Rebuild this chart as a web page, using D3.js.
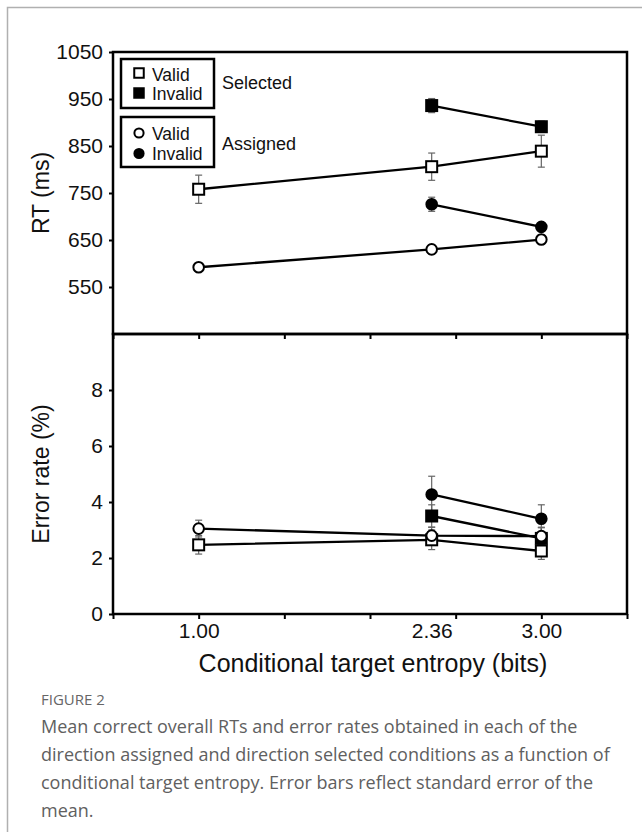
<!DOCTYPE html>
<html>
<head>
<meta charset="utf-8">
<script src="https://cdn.jsdelivr.net/npm/d3@7"></script>
<style>
  html, body { margin: 0; padding: 0; background: #fff; }
  svg { display: block; }
</style>
</head>
<body>
<svg id="chart" width="642" height="832"></svg>
<script>
// ---------------- DATA ----------------
const entropy = [1.00, 2.36, 3.00];
const entropyLabels = ["1.00", "2.36", "3.00"];

const rtTicks = [550, 650, 750, 850, 950, 1050];
const errTicks = [0, 2, 4, 6, 8];

// RT (ms)
const rtSelectedValid      = [758, 806, 839];
const rtSelectedValidSE    = [30, 29, 34];
const rtSelectedInvalid    = [null, 936, 891];
const rtSelectedInvalidSE  = [null, 15, 12];
const rtAssignedValid      = [592, 630, 651];
const rtAssignedValidSE    = [8, 10, 10];
const rtAssignedInvalid    = [null, 726, 678];
const rtAssignedInvalidSE  = [null, 15, 8];

// Error rate (%)
const erSelectedValid      = [2.47, 2.65, 2.25];
const erSelectedValidSE    = [0.33, 0.35, 0.3];
const erSelectedInvalid    = [null, 3.5, 2.7];
const erSelectedInvalidSE  = [null, 0.4, 0.4];
const erAssignedValid      = [3.05, 2.8, 2.78];
const erAssignedValidSE    = [0.3, 0.3, 0.3];
const erAssignedInvalid    = [null, 4.27, 3.4];
const erAssignedInvalidSE  = [null, 0.65, 0.5];

const captionTitle = "FIGURE 2";
const captionLines = [
  "Mean correct overall RTs and error rates obtained in each of the",
  "direction assigned and direction selected conditions as a function of",
  "conditional target entropy. Error bars reflect standard error of the",
  "mean."
];

// ---------------- LAYOUT ----------------
const FONT = "'Liberation Sans', Arial, Helvetica, sans-serif";
const svg = d3.select("#chart");

// outer card border
svg.append("rect").attr("x", 7.5).attr("y", 7.5).attr("width", 700).attr("height", 900)
  .attr("fill", "none").attr("stroke", "#b0b0b0").attr("stroke-width", 1.5);

const left = 113, right = 627, topY = 52, midY = 334, botY = 614;

const x = d3.scaleLinear().domain([0.5, 3.5]).range([left, right]);
const yTop = d3.scaleLinear().domain([450, 1050]).range([midY, topY]);
const yBot = d3.scaleLinear().domain([0, 10]).range([botY, midY]);

const panels = [
  { y: yTop, ticks: rtTicks, title: "RT (ms)", series: [
      { v: rtSelectedValid, se: rtSelectedValidSE, shape: "square", fill: "#fff" },
      { v: rtSelectedInvalid, se: rtSelectedInvalidSE, shape: "square", fill: "#000" },
      { v: rtAssignedValid, se: rtAssignedValidSE, shape: "circle", fill: "#fff" },
      { v: rtAssignedInvalid, se: rtAssignedInvalidSE, shape: "circle", fill: "#000" }
  ]},
  { y: yBot, ticks: errTicks, title: "Error rate (%)", series: [
      { v: erSelectedValid, se: erSelectedValidSE, shape: "square", fill: "#fff" },
      { v: erSelectedInvalid, se: erSelectedInvalidSE, shape: "square", fill: "#000" },
      { v: erAssignedValid, se: erAssignedValidSE, shape: "circle", fill: "#fff" },
      { v: erAssignedInvalid, se: erAssignedInvalidSE, shape: "circle", fill: "#000" }
  ]}
];

const xTickVals = d3.range(0.5, 3.51, 0.5);

panels.forEach(p => {
  const [y0, y1] = p.y.range(); // bottom, top
  // y axis ticks + labels
  const ax = svg.append("g").attr("transform", `translate(${left},0)`)
    .call(d3.axisLeft(p.y).tickValues(p.ticks).tickSize(4).tickPadding(6).tickFormat(d3.format("d")));
  ax.select(".domain").remove();
  ax.selectAll("line").attr("stroke", "#000").attr("stroke-width", 2);
  ax.selectAll("text").attr("font-family", FONT).attr("font-size", 21).attr("fill", "#111");

  // x ticks (pointing down) along the panel bottom
  const bx = svg.append("g").attr("transform", `translate(0,${y0})`)
    .call(d3.axisBottom(x).tickValues(xTickVals).tickSize(5).tickFormat(""));
  bx.select(".domain").remove();
  bx.selectAll("line").attr("stroke", "#000").attr("stroke-width", 2);

  // frame
  svg.append("rect").attr("x", left).attr("y", y1).attr("width", right - left).attr("height", y0 - y1)
    .attr("fill", "none").attr("stroke", "#000").attr("stroke-width", 2.5);

  // y title
  svg.append("text")
    .attr("transform", `translate(41,${(y0 + y1) / 2}) rotate(-90)`)
    .attr("text-anchor", "middle").attr("dy", "0.35em")
    .attr("font-family", FONT).attr("font-size", 23).attr("fill", "#111")
    .text(p.title);

  const g = svg.append("g");
  // error bars
  p.series.forEach(s => {
    s.v.forEach((v, i) => {
      if (v == null) return;
      const cx = x(entropy[i]);
      const ya = p.y(v + s.se[i]), yb = p.y(v - s.se[i]);
      g.append("line").attr("x1", cx).attr("x2", cx).attr("y1", ya).attr("y2", yb)
        .attr("stroke", "#666").attr("stroke-width", 1.2);
      [ya, yb].forEach(yy => g.append("line").attr("x1", cx - 3.5).attr("x2", cx + 3.5)
        .attr("y1", yy).attr("y2", yy).attr("stroke", "#666").attr("stroke-width", 1.2));
    });
  });
  // lines
  p.series.forEach(s => {
    const pts = s.v.map((v, i) => [entropy[i], v]).filter(d => d[1] != null);
    g.append("path").datum(pts)
      .attr("d", d3.line().x(d => x(d[0])).y(d => p.y(d[1])))
      .attr("fill", "none").attr("stroke", "#000").attr("stroke-width", 2.3);
  });
  // markers
  p.series.forEach(s => {
    s.v.forEach((v, i) => {
      if (v == null) return;
      drawMarker(g, s.shape, s.fill, x(entropy[i]), p.y(v), 11, 5.3);
    });
  });
});

function drawMarker(g, shape, fill, cx, cy, side, r) {
  if (shape === "square") {
    g.append("rect").attr("x", cx - side / 2).attr("y", cy - side / 2)
      .attr("width", side).attr("height", side)
      .attr("fill", fill).attr("stroke", "#000").attr("stroke-width", 2);
  } else {
    g.append("circle").attr("cx", cx).attr("cy", cy).attr("r", r)
      .attr("fill", fill).attr("stroke", "#000").attr("stroke-width", 2);
  }
}

// x tick labels
const xl = svg.append("g").attr("transform", `translate(0,${botY})`)
  .call(d3.axisBottom(x).tickValues(entropy).tickSize(0).tickPadding(9)
    .tickFormat((d, i) => entropyLabels[i]));
xl.select(".domain").remove();
xl.selectAll("text").attr("font-family", FONT).attr("font-size", 21).attr("fill", "#111");

// x title
svg.append("text").attr("x", 373).attr("y", 672).attr("text-anchor", "middle")
  .attr("font-family", FONT).attr("font-size", 25).attr("fill", "#111")
  .text("Conditional target entropy (bits)");

// ---------------- LEGEND ----------------
const legend = svg.append("g");
const legendGroups = [
  { box: [121, 59, 93, 49], shape: "square", label: "Selected", labelY: 89,
    items: [{ t: "Valid", fill: "#fff", y: 73, ty: 80.5 }, { t: "Invalid", fill: "#000", y: 93, ty: 99.5 }] },
  { box: [121, 117, 93, 50], shape: "circle", label: "Assigned", labelY: 149.5,
    items: [{ t: "Valid", fill: "#fff", y: 133, ty: 140 }, { t: "Invalid", fill: "#000", y: 153.5, ty: 159.5 }] }
];
legendGroups.forEach(L => {
  legend.append("rect").attr("x", L.box[0]).attr("y", L.box[1]).attr("width", L.box[2]).attr("height", L.box[3])
    .attr("fill", "#fff").attr("stroke", "#000").attr("stroke-width", 2.5);
  L.items.forEach(it => {
    drawMarker(legend, L.shape, it.fill, 139, it.y, 9.5, 4.6);
    legend.append("text").attr("x", 152).attr("y", it.ty)
      .attr("font-family", FONT).attr("font-size", 17.5).attr("fill", "#111").text(it.t);
  });
  legend.append("text").attr("x", 222).attr("y", L.labelY)
    .attr("font-family", FONT).attr("font-size", 18).attr("fill", "#111").text(L.label);
});

// ---------------- CAPTION ----------------
svg.append("text").attr("x", 41).attr("y", 705)
  .attr("font-family", "'Open Sans', 'Noto Sans', sans-serif").attr("font-size", 15)
  .attr("fill", "#666").text(captionTitle);
captionLines.forEach((t, i) => {
  svg.append("text").attr("x", 41).attr("y", 733 + i * 28)
    .attr("font-family", "'Open Sans', 'Noto Sans', sans-serif").attr("font-size", 18)
    .attr("fill", "#606060").text(t);
});
</script>
</body>
</html>
